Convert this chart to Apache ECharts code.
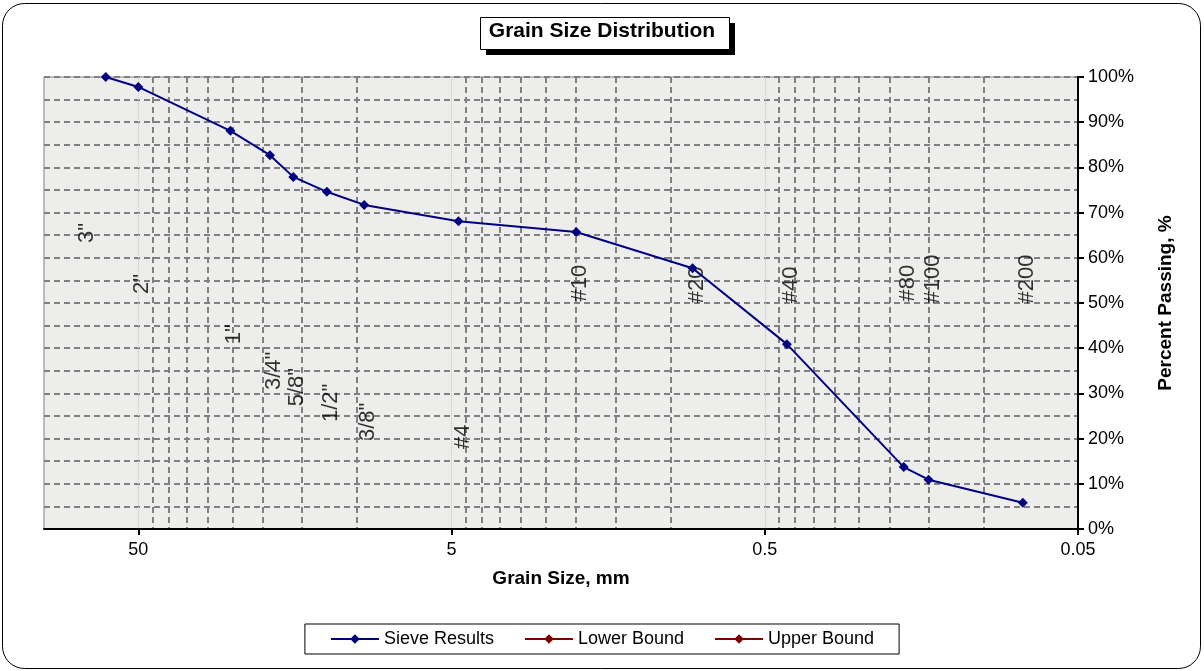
<!DOCTYPE html>
<html>
<head>
<meta charset="utf-8">
<script src="https://cdn.jsdelivr.net/npm/echarts@6/dist/echarts.min.js"></script>
<style>
html, body { margin: 0; padding: 0; background: #fff; }
#grainChart { width: 1204px; height: 671px; }
</style>
</head>
<body>
<div id="grainChart"></div>
<script>
// sieve results (grain size in mm, percent passing)
var sieveSizes = [63.5, 50, 25.4, 19, 16, 12.5, 9.5, 4.75, 2, 0.85, 0.425, 0.18, 0.15, 0.075];
var percentPassing = [100, 97.8, 88.1, 82.7, 77.9, 74.6, 71.7, 68.1, 65.7, 57.7, 40.9, 13.7, 10.9, 5.8];
var lowerBound = [];
var upperBound = [];

// sieve names written in the plot
var sieveNames = ['3"', '2"', '1"', '3/4"', '5/8"', '1/2"', '3/8"', '#4', '#10', '#20', '#40', '#80', '#100', '#200'];
var sieveNameSizes = [75, 50, 25.4, 19, 16, 12.5, 9.5, 4.75, 2, 0.85, 0.425, 0.18, 0.15, 0.075];
var sieveNameY = [65.5, 54.2, 43.1, 35.0, 31.4, 27.9, 23.7, 20.4, 54.4, 54.0, 54.0, 54.4, 55.3, 55.3];

// axis ticks
var xMajorTicks = [50, 5, 0.5, 0.05];
var xMinorTicks = [45, 40, 35, 30, 25, 20, 15, 10,
                   4.5, 4, 3.5, 3, 2.5, 2, 1.5, 1,
                   0.45, 0.4, 0.35, 0.3, 0.25, 0.2, 0.15, 0.1];

var fontName = 'Liberation Sans, Arial, sans-serif';

var myChart = echarts.init(document.getElementById('grainChart'));

var sieveResults = sieveSizes.map(function (s, i) { return [s, percentPassing[i]]; });
var nameMarks = sieveNames.map(function (n, i) {
    return { value: [sieveNameSizes[i], sieveNameY[i]], name: n };
});

var option = {
    backgroundColor: '#fff',
    animation: false,
    textStyle: { fontFamily: fontName },
    title: {
        text: 'Grain Size Distribution',
        left: 'center',
        top: 21,
        padding: 0,
        textStyle: {
            fontFamily: fontName,
            fontSize: 21,
            fontWeight: 'bold',
            color: '#000'
        }
    },
    legend: {
        left: 'center',
        top: 624,
        padding: [6, 25],
        itemGap: 30,
        itemWidth: 48,
        itemHeight: 12,
        backgroundColor: '#fff',
        borderColor: '#000',
        borderWidth: 1,
        textStyle: { fontFamily: fontName, fontSize: 18, color: '#000' },
        data: ['Sieve Results', 'Lower Bound', 'Upper Bound']
    },
    grid: {
        left: 44,
        right: 126,
        top: 77,
        bottom: 142,
        show: true,
        backgroundColor: '#ededeb',
        borderColor: '#808080',
        borderWidth: 1
    },
    xAxis: [
        {
            type: 'log',
            inverse: true,
            min: 0.05,
            max: 100,
            name: 'Grain Size, mm',
            nameLocation: 'middle',
            nameGap: 40,
            nameTextStyle: { fontFamily: fontName, fontSize: 19, fontWeight: 'bold', color: '#000' },
            axisLine: { lineStyle: { color: '#000', width: 2 } },
            axisTick: { customValues: xMajorTicks, length: 6, lineStyle: { color: '#000', width: 2 } },
            axisLabel: {
                customValues: xMajorTicks,
                margin: 12,
                fontSize: 18,
                color: '#000',
                formatter: function (v) { return String(+(+v).toPrecision(3)); }
            },
            splitLine: { show: true, lineStyle: { color: '#c4c4c4', width: 1, type: 'dotted' } }
        },
        {
            type: 'log',
            inverse: true,
            min: 0.05,
            max: 100,
            position: 'bottom',
            axisLine: { show: false },
            axisTick: { show: false, customValues: xMinorTicks },
            axisLabel: { show: false, customValues: xMinorTicks },
            splitLine: { show: true, lineStyle: { color: '#808080', width: 2, type: [6, 4] } }
        }
    ],
    yAxis: {
        type: 'value',
        position: 'right',
        min: 0,
        max: 100,
        interval: 10,
        name: 'Percent Passing, %',
        nameLocation: 'middle',
        nameRotate: 90,
        nameGap: 78,
        nameTextStyle: { fontFamily: fontName, fontSize: 19, fontWeight: 'bold', color: '#000' },
        axisLine: { show: true, lineStyle: { color: '#000', width: 2 } },
        axisTick: { show: true, length: 6, lineStyle: { color: '#000', width: 2 } },
        axisLabel: { formatter: '{value}%', fontSize: 18, color: '#000', margin: 10 },
        splitLine: { show: true, lineStyle: { color: '#808080', width: 2, type: [6, 4] } },
        minorTick: { show: false, splitNumber: 2 },
        minorSplitLine: { show: true, lineStyle: { color: '#808080', width: 2, type: [6, 4] } }
    },
    graphic: [
        {
            type: 'rect',
            shape: { x: 2.5, y: 3.5, width: 1198, height: 665, r: 22 },
            style: { fill: 'none', stroke: '#000', lineWidth: 1 },
            silent: true,
            z: 100
        },
        // title box and its shadow
        {
            type: 'rect',
            shape: { x: 486, y: 23, width: 249, height: 32 },
            style: { fill: '#000' },
            silent: true,
            z: 1
        },
        {
            type: 'rect',
            shape: { x: 480.5, y: 17.5, width: 249, height: 32 },
            style: { fill: '#fff', stroke: '#000', lineWidth: 1 },
            silent: true,
            z: 2
        }
    ],
    series: [
        {
            name: 'sieve names',
            type: 'scatter',
            data: nameMarks,
            symbolSize: 0.1,
            itemStyle: { color: 'transparent' },
            silent: true,
            label: {
                show: true,
                position: 'inside',
                rotate: 90,
                offset: [0, 4],
                formatter: '{b}',
                fontFamily: fontName,
                fontSize: 22,
                color: '#000',
                textBorderWidth: 0,
                textBorderColor: 'transparent'
            },
            z: 3
        },
        {
            name: 'Sieve Results',
            type: 'line',
            data: sieveResults,
            color: '#000080',
            symbol: 'diamond',
            symbolSize: 10,
            lineStyle: { width: 2, color: '#000080' },
            itemStyle: { color: '#000080' },
            z: 5
        },
        {
            name: 'Lower Bound',
            type: 'line',
            data: lowerBound,
            color: '#800000',
            symbol: 'diamond',
            symbolSize: 7,
            lineStyle: { width: 2, color: '#800000' }
        },
        {
            name: 'Upper Bound',
            type: 'line',
            data: upperBound,
            color: '#800000',
            symbol: 'diamond',
            symbolSize: 7,
            lineStyle: { width: 2, color: '#800000' }
        }
    ]
};
myChart.setOption(option);
</script>
</body>
</html>
